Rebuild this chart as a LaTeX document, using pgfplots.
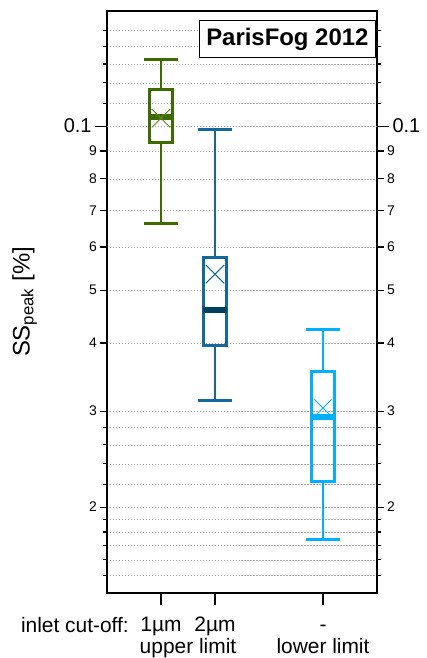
\documentclass[border=0pt]{standalone}
\usepackage{fontspec}
\setmainfont{Liberation Sans}
\usepackage{pgfplots}
\pgfplotsset{compat=1.18}

\definecolor{cgreen}{RGB}{61,107,0}
\definecolor{cgreenx}{RGB}{90,135,40}
\definecolor{cblue}{RGB}{20,105,155}
\definecolor{cbluemed}{RGB}{0,64,95}
\definecolor{clight}{RGB}{0,176,255}

% box at position #1: lower whisker #2, lower quartile #3, median #4,
% upper quartile #5, upper whisker #6; colour #7, median colour #8
\newcommand{\bplot}[8]{%
  \addplot[#7, line width=3pt] coordinates {(#1,#2) (#1,#3)};
  \addplot[#7, line width=3pt] coordinates {(#1,#5) (#1,#6)};
  \addplot[#7, line width=3.2pt] coordinates {(#1-0.315,#2) (#1+0.315,#2)};
  \addplot[#7, line width=3.2pt] coordinates {(#1-0.315,#6) (#1+0.315,#6)};
  \addplot[#7, line width=3pt] coordinates {(#1-0.22,#3) (#1+0.22,#3) (#1+0.22,#5) (#1-0.22,#5)} -- cycle;
  \addplot[#8, line width=6pt] coordinates {(#1-0.22,#4) (#1+0.22,#4)};
}

\begin{document}
\begin{tikzpicture}
% right-hand copy of the y axis
\begin{axis}[
    scale only axis, width=270bp, height=582bp,
    ymode=log, ymin=0.01391, ymax=0.1626, xmin=0, xmax=5,
    ytick={0.02,0.03,0.04,0.05,0.06,0.07,0.08,0.09},
    yticklabels={2,3,4,5,6,7,8,9},
    minor ytick={0.015,0.016,0.017,0.018,0.019,0.022,0.024,0.026,0.028,0.11,0.12,0.13,0.14,0.15},
    extra y ticks={0.1}, extra y tick labels={0.1},
    major tick length=6.5bp, minor tick length=4bp,
    tick align=outside,
    yticklabel style={font=\fontsize{14}{14}\selectfont},
    extra y tick style={major tick length=12bp,
      yticklabel style={font=\fontsize{20}{20}\selectfont}},
    axis line style={line width=1.3pt},
    every tick/.style={black, line width=1.1pt},
    ytick pos=right, yticklabel pos=right, xtick=\empty,
]
\end{axis}

\begin{axis}[
    scale only axis, width=270bp, height=582bp,
    ymode=log, ymin=0.01391, ymax=0.1626, xmin=0, xmax=5,
    ytick={0.02,0.03,0.04,0.05,0.06,0.07,0.08,0.09},
    yticklabels={2,3,4,5,6,7,8,9},
    minor ytick={0.015,0.016,0.017,0.018,0.019,0.022,0.024,0.026,0.028,0.11,0.12,0.13,0.14,0.15},
    extra y ticks={0.1}, extra y tick labels={0.1},
    major tick length=6.5bp, minor tick length=4bp,
    tick align=outside,
    yticklabel style={font=\fontsize{14}{14}\selectfont},
    extra y tick style={major tick length=12bp,
      yticklabel style={font=\fontsize{20}{20}\selectfont}},
    axis line style={line width=1.3pt},
    every tick/.style={black, line width=1.1pt},
    clip=false,
    ytick pos=left,
    ymajorgrids, yminorgrids,
    grid style={gray!65, line width=0.5pt, dash pattern=on 1.5pt off 1.5pt},
    minor grid style={gray!65, line width=0.5pt, dash pattern=on 1.5pt off 1.5pt},
    xtick=\empty, xtick pos=bottom,
    extra x ticks={1,2,4}, extra x tick labels={1µm,2µm,-},
    extra x tick style={major tick length=12bp,
      xticklabel style={font=\fontsize{21}{21}\selectfont, anchor=base, yshift=-27bp}},
    ylabel={SS\textsubscript{peak} [\%]},
    ylabel style={font=\fontsize{24}{24}\selectfont, at={(axis description cs:-0.305,0.5)}, anchor=center},
]
% 1um inlet
\bplot{1}{0.0663}{0.0933}{0.1040}{0.1168}{0.1326}{cgreen}{cgreen}
\addplot[only marks, mark=x, mark size=13bp, draw=cgreenx, line width=0.9pt] coordinates {(1,0.1034)};

% 2um inlet
\bplot{2}{0.0314}{0.0396}{0.0460}{0.0573}{0.0986}{cblue}{cbluemed}
\addplot[only marks, mark=x, mark size=13bp, draw=cblue, line width=0.9pt] coordinates {(2,0.0535)};

% no inlet
\bplot{4}{0.01741}{0.0223}{0.0292}{0.0355}{0.04236}{clight}{clight}
\addplot[only marks, mark=x, mark size=12bp, draw=clight, line width=0.9pt] coordinates {(4,0.0304)};

\node[draw=black, line width=1.3pt, fill=white, anchor=north east, inner sep=0pt,
  minimum width=176bp, minimum height=37bp,
  font=\fontsize{24}{24}\selectfont\bfseries]
  at ([xshift=-1bp,yshift=-9bp]rel axis cs:1,1) {ParisFog 2012};

\node[anchor=base east, inner sep=0pt, font=\fontsize{21}{21}\selectfont]
  at ([yshift=-39bp]rel axis cs:0.0815,0) {inlet cut-off:};
\node[anchor=base, inner sep=0pt, font=\fontsize{21}{21}\selectfont]
  at ([yshift=-60bp]rel axis cs:0.3,0) {upper limit};
\node[anchor=base, inner sep=0pt, font=\fontsize{21}{21}\selectfont]
  at ([yshift=-60bp]rel axis cs:0.8,0) {lower limit};
\end{axis}

\pgfresetboundingbox
\path ([shift={(-107bp,-65bp)}]current axis.south west) rectangle ++(427bp,658bp);
\end{tikzpicture}
\end{document}
